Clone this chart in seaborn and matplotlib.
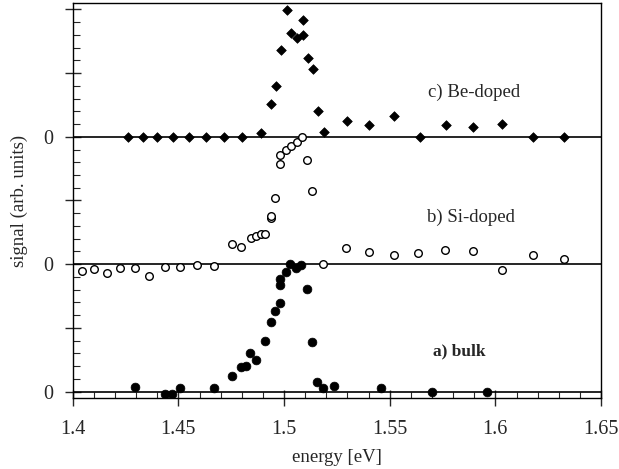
import numpy as np
import pandas as pd
import matplotlib
matplotlib.use('Agg')
import matplotlib.pyplot as plt
from matplotlib.ticker import MultipleLocator
import seaborn as sns

# a) bulk - filled circles (signal relative to its own baseline)
bulk_e = [1.4294, 1.4437, 1.4470, 1.4508, 1.4668, 1.4753, 1.4797, 1.4819, 1.4841,
          1.4865, 1.4911, 1.4936, 1.4958, 1.4982, 1.4982, 1.4983, 1.5009, 1.5029,
          1.5057, 1.5082, 1.5108, 1.5133, 1.5157, 1.5185, 1.5234, 1.5458, 1.5700,
          1.5962]
bulk_s = [0.07, -0.03, -0.03, 0.05, 0.06, 0.24, 0.39, 0.41, 0.61,
          0.49, 0.80, 1.09, 1.26, 1.39, 1.68, 1.76, 1.87, 2.01,
          1.94, 1.99, 1.61, 0.78, 0.15, 0.06, 0.09, 0.06, 0.00,
          0.00]

# b) Si-doped - open circles
si_e = [1.4044, 1.4102, 1.4164, 1.4225, 1.4294, 1.4361, 1.4436, 1.4509, 1.4587,
        1.4668, 1.4753, 1.4798, 1.4843, 1.4868, 1.4890, 1.4912, 1.4936, 1.4936,
        1.4959, 1.4982, 1.4983, 1.5010, 1.5034, 1.5061, 1.5087, 1.5109, 1.5133,
        1.5185, 1.5294, 1.5402, 1.5518, 1.5636, 1.5761, 1.5892, 1.6029, 1.6176,
        1.6325]
si_s = [-0.11, -0.08, -0.14, -0.06, -0.06, -0.19, -0.05, -0.04, -0.01,
        -0.03, 0.31, 0.27, 0.41, 0.45, 0.47, 0.48, 0.72, 0.75,
        1.04, 1.57, 1.72, 1.80, 1.85, 1.92, 2.00, 1.64, 1.15,
        0.01, 0.25, 0.19, 0.15, 0.17, 0.23, 0.20, -0.09, 0.15,
        0.08]

# c) Be-doped - diamonds
be_e = [1.4263, 1.4331, 1.4401, 1.4476, 1.4552, 1.4631, 1.4715, 1.4802, 1.4892,
        1.4938, 1.4963, 1.4986, 1.5015, 1.5035, 1.5061, 1.5089, 1.5090, 1.5111,
        1.5136, 1.5160, 1.5188, 1.5297, 1.5404, 1.5521, 1.5641, 1.5764, 1.5895,
        1.6029, 1.6179, 1.6326]
be_s = [0.0, 0.0, 0.0, 0.0, 0.0, 0.0, 0.0, 0.0, 0.06,
        0.52, 0.80, 1.36, 1.99, 1.63, 1.55, 1.83, 1.60, 1.24,
        1.07, 0.41, 0.08, 0.25, 0.18, 0.33, 0.0, 0.18, 0.16,
        0.20, 0.0, 0.0]

offsets = [0, 2, 4]
labels = ['a) bulk', 'b) Si-doped', 'c) Be-doped']
xticks = [1.4, 1.45, 1.5, 1.55, 1.6, 1.65]
xticklabels = ['1.4', '1.45', '1.5', '1.55', '1.6', '1.65']

sns.set_style('ticks')
plt.rcParams['font.family'] = ['Liberation Serif', 'DejaVu Serif']

fig = plt.figure(figsize=(6.19, 4.69), dpi=100)
ax = fig.add_axes([0.1175, 0.1514, 0.8535, 0.8422])

bulk = pd.DataFrame({'energy': bulk_e, 'signal': np.array(bulk_s) + offsets[0]})
si = pd.DataFrame({'energy': si_e, 'signal': np.array(si_s) + offsets[1]})
be = pd.DataFrame({'energy': be_e, 'signal': np.array(be_s) + offsets[2]})

# zero line of each offset curve
for off in offsets:
    ax.axhline(off, color='black', lw=1.2, zorder=1)

sns.scatterplot(data=bulk, x='energy', y='signal', ax=ax, marker='o', s=40,
                color='black', edgecolor='black', linewidth=0.5, zorder=3)
sns.scatterplot(data=si, x='energy', y='signal', ax=ax, marker='o', s=30,
                facecolor='white', edgecolor='black', linewidth=1.0, zorder=3)
sns.scatterplot(data=be, x='energy', y='signal', ax=ax, marker='D', s=24,
                color='black', edgecolor='black', linewidth=0.5, zorder=3)

ax.text(1.5706, 0.63, labels[0], fontsize=12.5, fontweight='bold', va='center', ha='left')
ax.text(1.5678, 2.73, labels[1], fontsize=13.5, va='center', ha='left')
ax.text(1.5682, 4.69, labels[2], fontsize=13.5, va='center', ha='left')

ax.set_xlim(1.4, 1.65)
ax.set_ylim(-0.1, 6.1)
ax.set_xticks(xticks)
ax.set_xticklabels(xticklabels)
ax.xaxis.set_minor_locator(MultipleLocator(0.01))
ax.set_yticks(range(7))
ax.set_yticklabels(['0', '', '0', '', '0', '', ''])
ax.yaxis.set_minor_locator(MultipleLocator(0.2))

ax.tick_params(axis='x', which='major', direction='inout', length=12, width=1, pad=10, labelsize=14.5)
ax.tick_params(axis='x', which='minor', direction='in', length=4.5, width=0.8)
ax.tick_params(axis='y', which='major', direction='inout', length=12, width=1, pad=8, labelsize=14.5)
ax.tick_params(axis='y', which='minor', direction='in', length=5, width=0.8)

for sp in ax.spines.values():
    sp.set_linewidth(1.0)
    sp.set_color('black')

ax.set_xlabel('energy [eV]', fontsize=13.5, labelpad=7)
ax.set_ylabel('signal (arb. units)', fontsize=13.5, labelpad=11)

fig.savefig('out.png', dpi=100)
